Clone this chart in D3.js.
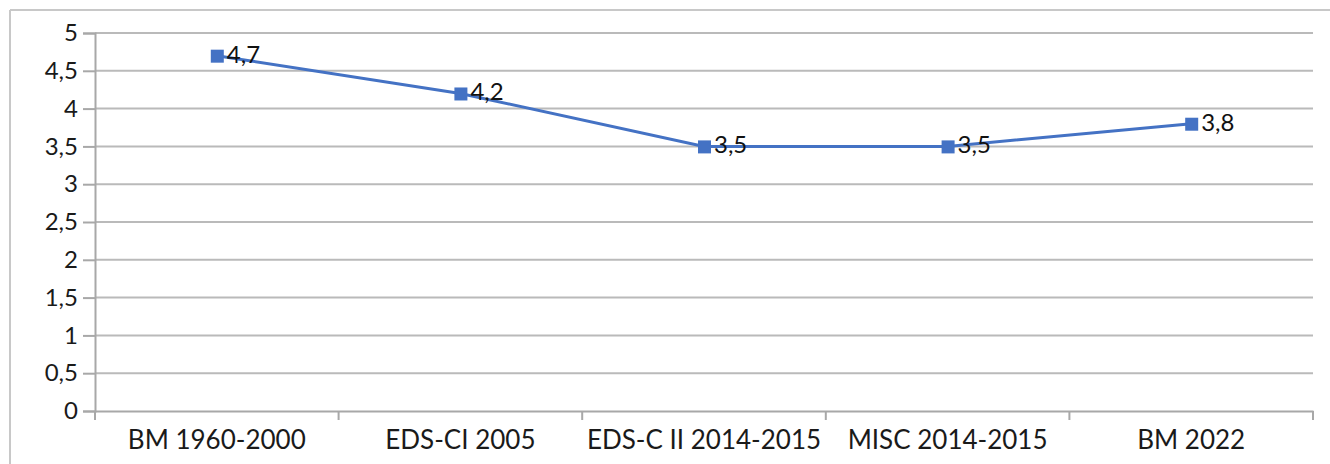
<!DOCTYPE html>
<html><head><meta charset="utf-8">
<script src="https://cdn.jsdelivr.net/npm/d3@7"></script>
<style>body{margin:0;background:#fff}svg{display:block}</style>
</head><body>
<script>
const categories = ["BM 1960-2000","EDS-CI 2005","EDS-C II 2014-2015","MISC 2014-2015","BM 2022"];
const values = [4.7, 4.2, 3.5, 3.5, 3.8];
const yTicks = [0,0.5,1,1.5,2,2.5,3,3.5,4,4.5,5];

const W = 1330, H = 464;
const svg = d3.select("body").append("svg").attr("width", W).attr("height", H);
const font = "Lato, 'Open Sans', sans-serif";
const fmt = v => String(v).replace(".", ",");

// outer frame
svg.append("line").attr("x1",10).attr("x2",W).attr("y1",10).attr("y2",10).attr("stroke","#c8c8c8").attr("stroke-width",2);
svg.append("line").attr("x1",10).attr("x2",10).attr("y1",10).attr("y2",H).attr("stroke","#c8c8c8").attr("stroke-width",2);

const x = d3.scaleBand().domain(categories).range([95, 1313]);
const y = d3.scaleLinear().domain([0,5]).range([411, 33]);

// gridlines
svg.append("g").selectAll("line").data(yTicks.filter(d=>d>0)).join("line")
  .attr("x1",95).attr("x2",1313).attr("y1",d=>y(d)).attr("y2",d=>y(d))
  .attr("stroke","#bababa").attr("stroke-width",2);

// y axis
const yAxis = svg.append("g").attr("transform","translate(95,0)")
  .call(d3.axisLeft(y).tickValues(yTicks).tickFormat(fmt).tickSize(12).tickPadding(5));
yAxis.select(".domain").attr("stroke","#a8a8a8").attr("stroke-width",2);
yAxis.selectAll(".tick line").attr("stroke","#a8a8a8").attr("stroke-width",2);
yAxis.selectAll("text").attr("font-family",font).attr("font-size",24).attr("fill","#1a1a1a");

// x axis
const xAxis = svg.append("g").attr("transform","translate(0,411)")
  .call(d3.axisBottom(x).tickSize(0).tickPadding(20));
xAxis.select(".domain").attr("stroke","#a8a8a8").attr("stroke-width",2);
xAxis.selectAll("text").attr("font-family",font).attr("font-size",26).attr("fill","#1a1a1a");
const bounds = categories.map(c => x(c)).concat([x.range()[1]]);
svg.append("g").selectAll("line").data(bounds).join("line")
  .attr("x1",d=>d).attr("x2",d=>d).attr("y1",411).attr("y2",420)
  .attr("stroke","#a8a8a8").attr("stroke-width",2);

const cx = c => x(c) + x.bandwidth()/2;
const line = d3.line().x((d,i)=>cx(categories[i])).y(d=>y(d));
svg.append("path").datum(values).attr("d",line).attr("fill","none")
  .attr("stroke","#4472C4").attr("stroke-width",3);

svg.append("g").selectAll("rect").data(values).join("rect")
  .attr("x",(d,i)=>cx(categories[i])-6).attr("y",d=>y(d)-6)
  .attr("width",13).attr("height",13).attr("fill","#4472C4");

svg.append("g").selectAll("text").data(values).join("text")
  .attr("x",(d,i)=>cx(categories[i])+10).attr("y",d=>y(d)+7)
  .attr("font-family",font).attr("font-size",24).attr("fill","#111")
  .text(fmt);
</script>
</body></html>
